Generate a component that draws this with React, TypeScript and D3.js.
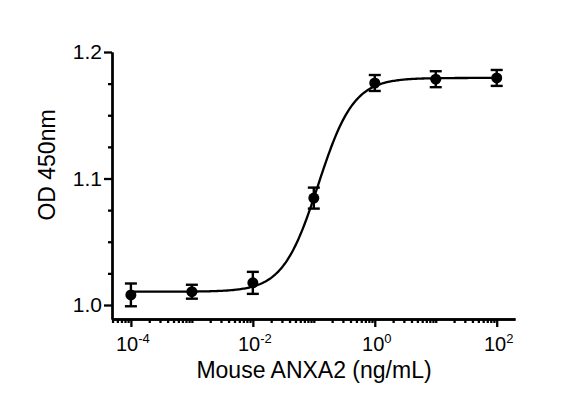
import React, { useEffect, useRef } from 'react'
import * as d3 from 'd3'

// data
const concentrations = [1e-4, 1e-3, 1e-2, 1e-1, 1, 10, 100]
const odMeans = [1.008, 1.0105, 1.0175, 1.0845, 1.1755, 1.1785, 1.1795]
const odErrors = [0.009, 0.0055, 0.0087, 0.0083, 0.0063, 0.0063, 0.0063]

// 4PL fit drawn through the points
const fitBottom = 1.0105
const fitTop = 1.1795
const fitEC50 = 0.118
const fitHill = 1.5

const xMajorTicks = [1e-4, 1e-2, 1, 100]
const yMajorTicks = [1.0, 1.1, 1.2]
const yMinorTicks = [1.025, 1.05, 1.075, 1.125, 1.15, 1.175]

const FONT = 'Liberation Sans, Arial, sans-serif'

const App = () => {
    const svgRef = useRef<SVGSVGElement>(null)

    useEffect(() => {
        const svg = d3.select(svgRef.current)
        svg.selectAll('*').remove()

        const x = d3.scaleLog()
            .domain([Math.pow(10, -4.31), Math.pow(10, 2.3)])
            .range([112, 515])

        const y = d3.scaleLinear()
            .domain([1.2 - 267 / 1265, 1.2])
            .range([319, 52])

        // minor log ticks: 2..9 of every decade inside the domain
        const [d0, d1] = x.domain()
        const xMinor: number[] = []
        for (let e = -5; e <= 2; e++) {
            for (let k = 1; k <= 9; k++) {
                const v = k * Math.pow(10, e)
                if (v >= d0 && v <= d1 && !xMajorTicks.some(m => Math.abs(m - v) / v < 1e-6)) xMinor.push(v)
            }
        }

        const gx = svg.append('g').attr('transform', 'translate(0,319)')
        gx.call(d3.axisBottom(x).tickValues(xMinor).tickSize(4).tickSizeOuter(0).tickFormat(() => ''))
        gx.append('g').call(d3.axisBottom(x).tickValues(xMajorTicks).tickSize(8).tickSizeOuter(0).tickFormat(() => ''))

        const gy = svg.append('g').attr('transform', 'translate(112,0)')
        gy.call(d3.axisLeft(y).tickValues(yMinorTicks).tickSize(4).tickSizeOuter(0).tickFormat(() => ''))
        gy.append('g').call(d3.axisLeft(y).tickValues(yMajorTicks).tickSize(8).tickSizeOuter(0).tickFormat(() => ''))

        svg.selectAll('.domain, .tick line')
            .attr('stroke', '#000')
            .attr('stroke-width', 2.3)

        // y tick labels
        svg.selectAll('.ylab')
            .data(yMajorTicks)
            .join('text')
            .attr('class', 'ylab')
            .attr('x', 102)
            .attr('y', d => y(d) + 7)
            .attr('text-anchor', 'end')
            .attr('font-family', FONT)
            .attr('font-size', 21)
            .text(d => d3.format('.1f')(d))

        // x tick labels 10^n
        const xl = svg.selectAll('.xlab')
            .data(xMajorTicks)
            .join('text')
            .attr('class', 'xlab')
            .attr('x', d => x(d) + 2)
            .attr('y', 351)
            .attr('text-anchor', 'middle')
            .attr('font-family', FONT)
            .attr('font-size', 20)
        xl.append('tspan').text('10')
        xl.append('tspan')
            .attr('dy', -8)
            .attr('font-size', 13)
            .text(d => String(Math.round(Math.log10(d))))

        // fitted curve
        const fit = (c: number) => fitBottom + (fitTop - fitBottom) / (1 + Math.pow(fitEC50 / c, fitHill))
        const curveXs = d3.range(0, 301).map(i => Math.pow(10, -4 + (6 * i) / 300))
        svg.append('path')
            .datum(curveXs)
            .attr('fill', 'none')
            .attr('stroke', '#000')
            .attr('stroke-width', 2.3)
            .attr('d', d3.line<number>().x(c => x(c)).y(c => y(fit(c))))

        // error bars + points
        const pts = concentrations.map((c, i) => ({ c, m: odMeans[i], e: odErrors[i] }))
        const eb = svg.selectAll('.err').data(pts).join('g').attr('class', 'err')
            .attr('stroke', '#000').attr('stroke-width', 2.4)
        eb.append('line')
            .attr('x1', d => x(d.c)).attr('x2', d => x(d.c))
            .attr('y1', d => y(d.m - d.e)).attr('y2', d => y(d.m + d.e))
        eb.append('line')
            .attr('x1', d => x(d.c) - 6).attr('x2', d => x(d.c) + 6)
            .attr('y1', d => y(d.m + d.e)).attr('y2', d => y(d.m + d.e))
        eb.append('line')
            .attr('x1', d => x(d.c) - 6).attr('x2', d => x(d.c) + 6)
            .attr('y1', d => y(d.m - d.e)).attr('y2', d => y(d.m - d.e))

        svg.selectAll('.pt').data(pts).join('circle').attr('class', 'pt')
            .attr('cx', d => x(d.c))
            .attr('cy', d => y(d.m))
            .attr('r', 5.5)
            .attr('fill', '#000')

        // axis titles
        svg.append('text')
            .attr('x', 314)
            .attr('y', 378)
            .attr('text-anchor', 'middle')
            .attr('font-family', FONT)
            .attr('font-size', 23)
            .text('Mouse ANXA2 (ng/mL)')

        svg.append('text')
            .attr('transform', 'translate(55,165) rotate(-90)')
            .attr('text-anchor', 'middle')
            .attr('font-family', FONT)
            .attr('font-size', 23)
            .text('OD 450nm')
    }, [])

    return (
        <svg
            ref={svgRef}
            width={569}
            height={399}
            style={{ position: 'absolute', left: 0, top: 0, background: '#fff' }}
        />
    )
}

export default App
